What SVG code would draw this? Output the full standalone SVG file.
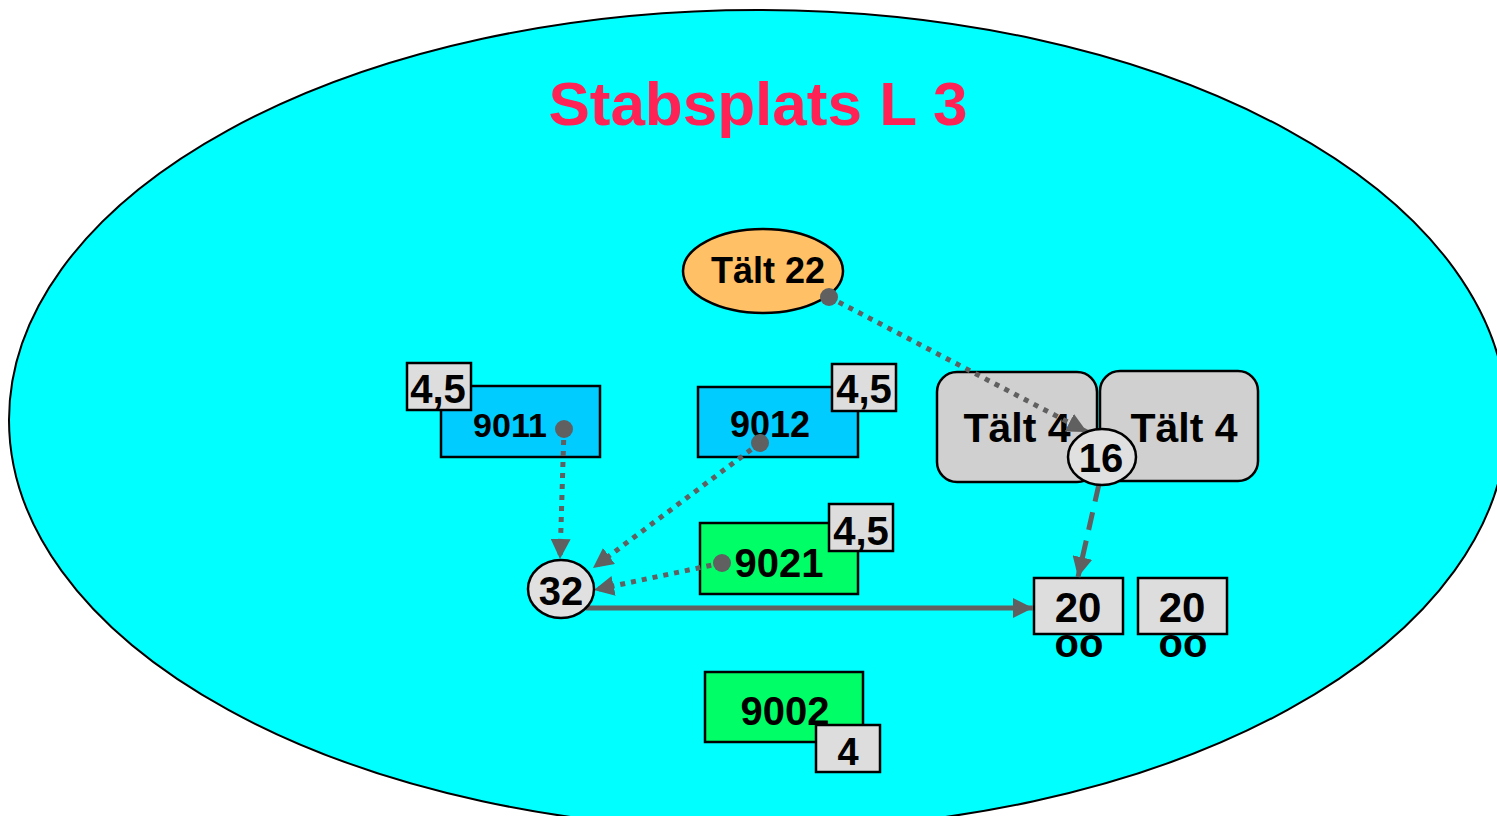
<svg xmlns="http://www.w3.org/2000/svg" width="1497" height="816" viewBox="0 0 1497 816">
<style>
text{font-family:"Liberation Sans",Arial,sans-serif;font-weight:bold;fill:#000;text-anchor:middle}
.blue{fill:#00CCFF;stroke:#000;stroke-width:2.5}
.green{fill:#00FF66;stroke:#000;stroke-width:2.5}
.badge{fill:#DDDDDD;stroke:#000;stroke-width:2.5}
.tent{fill:#D0D0D0;stroke:#000;stroke-width:2.5}
.circ{fill:#E0E0E0;stroke:#000;stroke-width:2.5}
.con{stroke:#606060;stroke-width:5;fill:none}
.dot{stroke-dasharray:5 6}
.dash{stroke-dasharray:18 11}
.pt{fill:#606060}
</style>
<defs>
<marker id="arr" markerUnits="userSpaceOnUse" markerWidth="22" markerHeight="20" refX="20" refY="10" orient="auto">
<path d="M0,0 L20,10 L0,20 Z" fill="#606060"/>
</marker>
</defs>
<rect width="1497" height="816" fill="#fff"/>
<ellipse id="area" cx="758" cy="420" rx="749" ry="410" fill="#00FFFF" stroke="#000" stroke-width="2"/>
<text x="758" y="125" font-size="62" style="fill:#FF2255">Stabsplats L 3</text>

<g id="talt4a"><rect class="tent" x="937" y="372" width="160" height="110" rx="20"/><text x="1017" y="442" font-size="41">Tält 4</text></g>
<g id="talt4b"><rect class="tent" x="1100" y="371" width="158" height="110" rx="20"/><text x="1184" y="442" font-size="41">Tält 4</text></g>

<g id="talt22"><ellipse cx="763" cy="271" rx="80" ry="42" fill="#FFC066" stroke="#000" stroke-width="2.5"/><text x="768" y="283" font-size="36">Tält 22</text></g>

<g id="n9011"><rect class="blue" x="441" y="386" width="159" height="71"/><text x="510" y="437" font-size="34">9011</text>
<rect class="badge" x="407" y="363" width="64" height="47"/><text x="438" y="403" font-size="40">4,5</text></g>

<g id="n9012"><rect class="blue" x="698" y="387" width="160" height="70"/><text x="770" y="437" font-size="36">9012</text>
<rect class="badge" x="832" y="364" width="64" height="47"/><text x="864" y="403" font-size="40">4,5</text></g>

<g id="n9021"><rect class="green" x="700" y="523" width="158" height="71"/><text x="779" y="577" font-size="40">9021</text>
<rect class="badge" x="829" y="504" width="64" height="47"/><text x="861" y="545" font-size="40">4,5</text></g>

<g id="n9002"><rect class="green" x="705" y="672" width="158" height="70"/><text x="785" y="725" font-size="40">9002</text>
<rect class="badge" x="816" y="725" width="64" height="47"/><text x="848" y="765" font-size="38">4</text></g>

<g id="n20a"><rect class="badge" x="1034" y="578" width="89" height="56"/><text x="1078" y="622" font-size="42">20</text><text x="1079" y="657" font-size="40">oo</text></g>
<g id="n20b"><rect class="badge" x="1138" y="578" width="89" height="56"/><text x="1182" y="622" font-size="42">20</text><text x="1183" y="657" font-size="40">oo</text></g>

<g id="connectors">
<path class="con dot" d="M564,429 L560,559" marker-end="url(#arr)"/>
<path class="con dot" d="M760,443 L593,568" marker-end="url(#arr)"/>
<path class="con dot" d="M722,563 L594,590" marker-end="url(#arr)"/>
<path class="con dot" d="M829,297 L1087,432" marker-end="url(#arr)"/>
<path class="con dash" d="M1099,484 L1078,577" marker-end="url(#arr)"/>
<path class="con" d="M586,608 L1033,608" marker-end="url(#arr)"/>
<circle class="pt" cx="564" cy="429" r="9"/>
<circle class="pt" cx="760" cy="443" r="9"/>
<circle class="pt" cx="722" cy="563" r="9"/>
<circle class="pt" cx="829" cy="297" r="9"/>
</g>

<g id="n16"><ellipse class="circ" cx="1102" cy="457" rx="34" ry="28"/><text x="1101" y="472" font-size="40">16</text></g>
<g id="n32"><ellipse class="circ" cx="561" cy="589" rx="33" ry="29"/><text x="561" y="605" font-size="40">32</text></g>
</svg>
